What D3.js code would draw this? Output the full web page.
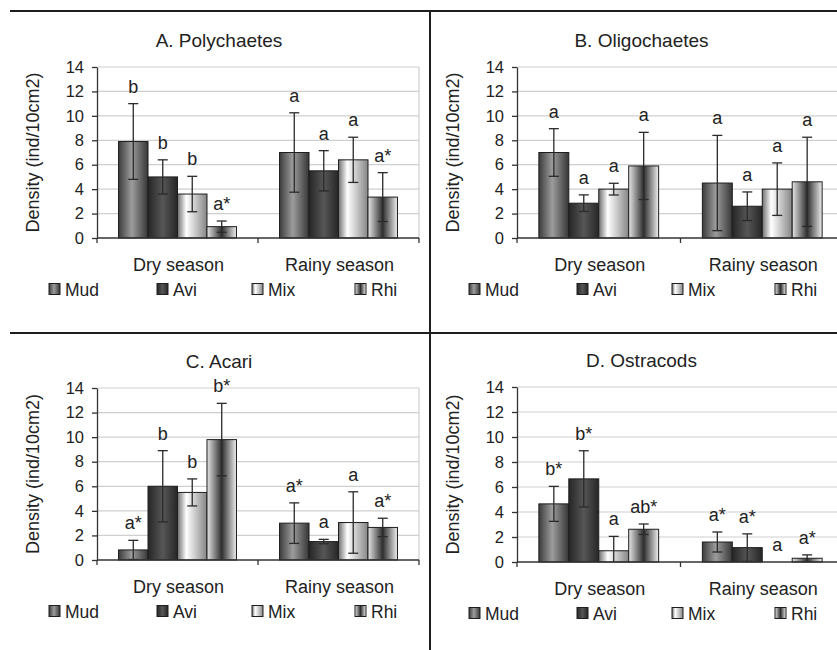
<!DOCTYPE html>
<html>
<head>
<meta charset="utf-8">
<script src="https://cdn.jsdelivr.net/npm/d3@7"></script>
<style>
  body { margin: 0; background: #fff; }
  svg { display: block; font-family: "Liberation Sans", Arial, sans-serif; }
  .tick text { fill: #222; }
</style>
</head>
<body>
<svg id="chart" width="837" height="650"></svg>
<script>
// categories
var habitats = ["Mud", "Avi", "Mix", "Rhi"];
var seasons  = ["Dry season", "Rainy season"];
var yTicks   = [0, 2, 4, 6, 8, 10, 12, 14];
var titles   = ["A. Polychaetes", "B. Oligochaetes", "C. Acari", "D. Ostracods"];

// means [dry, rainy] x [Mud, Avi, Mix, Rhi], error = +/- bar
var polyMean = [[7.9, 5.0, 3.6, 0.93], [7.0, 5.5, 6.4, 3.35]];
var polyErr  = [[3.1, 1.4, 1.45, 0.46], [3.25, 1.65, 1.85, 2.0]];
var polyLet  = [["b", "b", "b", "a*"], ["a", "a", "a", "a*"]];

var oligoMean = [[7.0, 2.85, 4.0, 5.9], [4.5, 2.6, 4.0, 4.6]];
var oligoErr  = [[1.95, 0.68, 0.48, 2.75], [3.9, 1.17, 2.15, 3.65]];
var oligoLet  = [["a", "a", "a", "a"], ["a", "a", "a", "a"]];

var acariMean = [[0.82, 6.0, 5.5, 9.8], [3.0, 1.5, 3.05, 2.65]];
var acariErr  = [[0.78, 2.9, 1.1, 2.95], [1.65, 0.18, 2.5, 0.75]];
var acariLet  = [["a*", "b", "b", "b*"], ["a*", "a", "a", "a*"]];

var ostraMean = [[4.65, 6.65, 0.9, 2.62], [1.6, 1.15, 0, 0.3]];
var ostraErr  = [[1.4, 2.25, 1.15, 0.42], [0.8, 1.1, 0, 0.27]];
var ostraLet  = [["b*", "b*", "a", "ab*"], ["a*", "a*", "a", "a*"]];

var panels = [
  {title: titles[0], mean: polyMean,  err: polyErr,  lab: polyLet,  x0: 97,  x1: 419, top: 67,  bottom: 238},
  {title: titles[1], mean: oligoMean, err: oligoErr, lab: oligoLet, x0: 517, x1: 844, top: 67,  bottom: 238},
  {title: titles[2], mean: acariMean, err: acariErr, lab: acariLet, x0: 97,  x1: 419, top: 388, bottom: 560},
  {title: titles[3], mean: ostraMean, err: ostraErr, lab: ostraLet, x0: 517, x1: 844, top: 387, bottom: 562}
];

var svg = d3.select("#chart");

// bar fills: horizontal gradients like the excel presets
var gradStops = {
  Mud: [[0, "#3c3c3c"], [0.45, "#9c9c9c"], [1, "#363636"]],
  Avi: [[0, "#262626"], [0.5, "#565656"], [1, "#262626"]],
  Mix: [[0, "#6e6e6e"], [0.3, "#ffffff"], [1, "#858585"]],
  Rhi: [[0, "#e6e6e6"], [0.5, "#2e2e2e"], [1, "#eeeeee"]]
};
var defs = svg.append("defs");
habitats.forEach(function(h){
  var g = defs.append("linearGradient").attr("id", "g" + h)
    .attr("x1", "0%").attr("x2", "100%").attr("y1", "0%").attr("y2", "0%");
  gradStops[h].forEach(function(s){
    g.append("stop").attr("offset", s[0]).attr("stop-color", s[1]);
  });
});

// frame lines between the four panels
svg.append("line").attr("x1", 10).attr("x2", 837).attr("y1", 11).attr("y2", 11)
  .attr("stroke", "#1e1e1e").attr("stroke-width", 2);
svg.append("line").attr("x1", 10).attr("x2", 837).attr("y1", 333).attr("y2", 333)
  .attr("stroke", "#1e1e1e").attr("stroke-width", 2);
svg.append("line").attr("x1", 430).attr("x2", 430).attr("y1", 11).attr("y2", 650)
  .attr("stroke", "#1e1e1e").attr("stroke-width", 2);

var legendOffsets = [-48, 60, 155, 258];

panels.forEach(function(p){
  var g = svg.append("g");

  var x = d3.scaleBand().domain(seasons).range([p.x0, p.x1]);
  var xb = d3.scaleBand().domain(habitats).range([0, x.bandwidth()]).paddingOuter(0.73);
  var y = d3.scaleLinear().domain([0, 14]).range([p.bottom, p.top]);

  // gridlines
  g.selectAll(".grid").data(yTicks.slice(1)).enter().append("line")
    .attr("x1", p.x0).attr("x2", p.x1)
    .attr("y1", function(d){ return y(d); }).attr("y2", function(d){ return y(d); })
    .attr("stroke", "#cfcfcf").attr("stroke-width", 1.2);
  // right border of plot area
  g.append("line").attr("x1", p.x1).attr("x2", p.x1).attr("y1", p.top).attr("y2", p.bottom)
    .attr("stroke", "#cfcfcf").attr("stroke-width", 1.2);

  // title
  g.append("text").attr("x", (p.x0 + p.x1) / 2 - 39).attr("y", p.top - 20.5)
    .attr("text-anchor", "middle").attr("font-size", 19).attr("fill", "#222")
    .text(p.title);

  // bars
  seasons.forEach(function(s, si){
    habitats.forEach(function(h, hi){
      var m = p.mean[si][hi], e = p.err[si][hi];
      var bx = x(s) + xb(h);
      if (m > 0) {
        g.append("rect")
          .attr("x", bx).attr("y", y(m))
          .attr("width", xb.bandwidth()).attr("height", y(0) - y(m))
          .attr("fill", "url(#g" + h + ")")
          .attr("stroke", "#1e1e1e").attr("stroke-width", 1);
      }
      var cx = bx + xb.bandwidth() / 2;
      var hiY = y(m + e), loY = y(Math.max(0, m - e));
      if (e > 0) {
        g.append("line").attr("x1", cx).attr("x2", cx).attr("y1", hiY).attr("y2", loY)
          .attr("stroke", "#2a2a2a").attr("stroke-width", 1.3);
        g.append("line").attr("x1", cx - 5).attr("x2", cx + 5).attr("y1", hiY).attr("y2", hiY)
          .attr("stroke", "#2a2a2a").attr("stroke-width", 1.3);
        if (m - e > 0) {
          g.append("line").attr("x1", cx - 5).attr("x2", cx + 5).attr("y1", loY).attr("y2", loY)
            .attr("stroke", "#2a2a2a").attr("stroke-width", 1.3);
        }
      }
      g.append("text").attr("x", cx).attr("y", hiY - 11)
        .attr("text-anchor", "middle").attr("font-size", 18).attr("fill", "#222")
        .text(p.lab[si][hi]);
    });
  });

  // y axis
  var yAxis = d3.axisLeft(y).tickValues(yTicks).tickSize(5).tickSizeOuter(0).tickPadding(8);
  var ya = g.append("g").attr("transform", "translate(" + p.x0 + ",0)").call(yAxis);
  ya.select(".domain").attr("stroke", "#333").attr("stroke-width", 1.3);
  ya.selectAll(".tick line").attr("stroke", "#333").attr("stroke-width", 1.3);
  ya.selectAll(".tick text").attr("font-size", 16.5).attr("font-family", "Liberation Sans, Arial, sans-serif");

  // x axis line with ticks at category boundaries
  g.append("line").attr("x1", p.x0).attr("x2", p.x1).attr("y1", y(0)).attr("y2", y(0))
    .attr("stroke", "#333").attr("stroke-width", 1.3);
  var bounds = [p.x0, x(seasons[1]), p.x1];
  g.selectAll(".xt").data(bounds).enter().append("line")
    .attr("x1", function(d){ return d; }).attr("x2", function(d){ return d; })
    .attr("y1", y(0)).attr("y2", y(0) + 5)
    .attr("stroke", "#333").attr("stroke-width", 1.3);

  g.selectAll(".cat").data(seasons).enter().append("text")
    .attr("x", function(d){ return x(d) + x.bandwidth() / 2 + 1; })
    .attr("y", p.bottom + 33)
    .attr("text-anchor", "middle").attr("font-size", 18).attr("fill", "#222")
    .text(function(d){ return d; });

  // y label
  var cy = (p.top + p.bottom) / 2;
  g.append("text")
    .attr("transform", "translate(" + (p.x0 - 58) + "," + cy + ") rotate(-90)")
    .attr("text-anchor", "middle").attr("font-size", 18).attr("fill", "#222")
    .text("Density (ind/10cm2)");

  // legend
  var ly = p.bottom + 51;
  habitats.forEach(function(h, i){
    var lx = p.x0 + legendOffsets[i];
    g.append("rect").attr("x", lx).attr("y", ly - 5.5).attr("width", 11).attr("height", 11)
      .attr("fill", "url(#g" + h + ")").attr("stroke", "#1e1e1e").attr("stroke-width", 1);
    g.append("text").attr("x", lx + 16).attr("y", ly + 6.5)
      .attr("font-size", 17.5).attr("fill", "#222").text(h);
  });
});
</script>
</body>
</html>
